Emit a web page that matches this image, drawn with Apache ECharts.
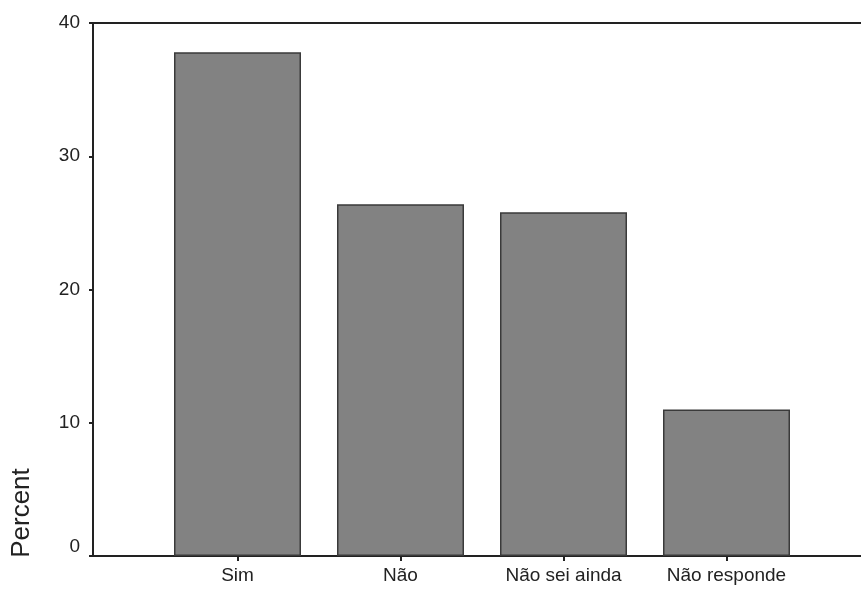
<!DOCTYPE html>
<html><head><meta charset="utf-8">
<script src="https://cdn.jsdelivr.net/npm/echarts@6/dist/echarts.min.js"></script>
<style>html,body{margin:0;padding:0;background:#fff}#c{width:861px;height:589px}</style>
</head><body><div id="c"></div>
<script>
const categories = ['Sim', 'Não', 'Não sei ainda', 'Não responde'];
const percentValues = [37.8, 26.4, 25.8, 11.0];
const yTicks = [0, 10, 20, 30, 40];

const chart = echarts.init(document.getElementById('c'));
const font = 'Liberation Sans, Arial, sans-serif';
chart.setOption({
  animation: false,
  grid: [
    {left: 93, right: -10, top: 23, bottom: 33},
    {left: 156, width: 652, top: 23, bottom: 33}
  ],
  xAxis: [
    {gridIndex: 0, type: 'value', min: 0, max: 1, position: 'bottom',
     axisLine: {show: true, lineStyle: {color: '#222', width: 2}}, axisTick: {show: false}, axisLabel: {show: false}, splitLine: {show: false}},
    {gridIndex: 0, type: 'value', min: 0, max: 1, position: 'top',
     axisLine: {show: true, lineStyle: {color: '#222', width: 2}}, axisTick: {show: false}, axisLabel: {show: false}, splitLine: {show: false}},
    {gridIndex: 1, type: 'category', data: categories,
     axisLine: {show: false},
     axisTick: {show: true, alignWithLabel: true, length: 5, lineStyle: {color: '#222', width: 2}},
     axisLabel: {color: '#222', fontSize: 19, fontFamily: font, margin: 10}}
  ],
  yAxis: [
    {gridIndex: 0, type: 'value', min: 0, max: 40, interval: 10,
     axisLine: {show: true, lineStyle: {color: '#222', width: 2}},
     axisTick: {show: true, length: 4, lineStyle: {color: '#222', width: 2}},
     axisLabel: {color: '#222', fontSize: 19, fontFamily: font, margin: 13,
       formatter: v => v === 0 ? '{up|0}' : (yTicks.includes(v) ? String(v) : ''),
       rich: {up: {fontSize: 19, fontFamily: font, color: '#222', padding: [0, 0, 18, 0]}}},
     splitLine: {show: false}},
    {gridIndex: 1, type: 'value', min: 0, max: 40, show: false}
  ],
  graphic: [{
    type: 'text', x: 22, y: 513, rotation: Math.PI / 2,
    style: {text: 'Percent', fontSize: 26, fontFamily: font, fill: '#222',
            textAlign: 'center', textVerticalAlign: 'middle'}
  }],
  series: [{
    type: 'bar', xAxisIndex: 2, yAxisIndex: 1, data: percentValues,
    barWidth: 127,
    itemStyle: {color: '#828282', borderColor: '#3a3a3a', borderWidth: 1.5}
  }]
});
</script></body></html>
